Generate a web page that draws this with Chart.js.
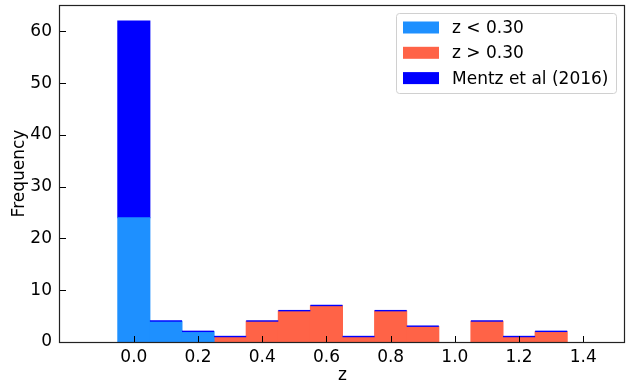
<!DOCTYPE html>
<html>
<head>
<meta charset="utf-8">
<script src="https://cdn.jsdelivr.net/npm/chart.js@4/dist/chart.umd.min.js"></script>
<style>
  html, body { margin: 0; padding: 0; background: #fff; }
  #wrap { width: 632px; height: 384px; }
</style>
</head>
<body>
<div id="wrap"><canvas id="histChart" width="632" height="384"></canvas></div>
<script>
// bin centres (bin width 0.1)
const binCenters = [0.0, 0.1, 0.2, 0.3, 0.4, 0.5, 0.6, 0.7, 0.8, 0.9, 1.0, 1.1, 1.2, 1.3];
// counts per bin
const lowZ   = [24, 4, 2, null, null, null, null, null, null, null, null, null, null, null];
const highZ  = [null, null, null, 1, 4, 6, 7, 1, 6, 3, null, 4, 1, 2];
const mentz  = [38, null, null, null, null, null, null, null, null, null, null, null, null, null];
const seriesLabels = ["z < 0.30", "z > 0.30", "Mentz et al (2016)"];
const xTicks = [0.0, 0.2, 0.4, 0.6, 0.8, 1.0, 1.2, 1.4];
const yTicks = [0, 10, 20, 30, 40, 50, 60];

const FONT = "DejaVu Sans";
const FSIZE = 17;
const colLow = "#1E90FF";
const colHigh = "#FF6347";
const colMentz = "#0000FF";

function toPoints(vals) {
    return binCenters.map((x, i) => ({ x: x, y: vals[i] }));
}

// empty Mentz bins stacked on top show up as a thin blue edge
const stackEdge = {
    id: "stackEdge",
    afterDatasetsDraw(chart) {
        const ctx = chart.ctx;
        ctx.save();
        ctx.fillStyle = colMentz;
        [0, 1].forEach(di => {
            chart.getDatasetMeta(di).data.forEach((bar, j) => {
                const v = chart.data.datasets[di].data[j].y;
                if (v === null || mentz[j]) return;
                ctx.fillRect(bar.x - bar.width / 2, bar.y - 1, bar.width, 1.4);
            });
        });
        ctx.restore();
    }
};

// ticks pointing into the plot, plus the box around it
const axesFrame = {
    id: "axesFrame",
    afterDatasetsDraw(chart) {
        const { ctx, chartArea: a, scales } = chart;
        ctx.save();
        ctx.strokeStyle = "#000";
        ctx.lineWidth = 1;
        ctx.beginPath();
        scales.x.ticks.forEach(t => {
            const px = Math.round(scales.x.getPixelForValue(t.value)) + 0.5;
            ctx.moveTo(px, a.bottom);
            ctx.lineTo(px, a.bottom - 6);
        });
        scales.y.ticks.forEach(t => {
            const py = Math.round(scales.y.getPixelForValue(t.value)) + 0.5;
            ctx.moveTo(a.left, py);
            ctx.lineTo(a.left + 6, py);
        });
        ctx.stroke();

        ctx.strokeStyle = "#222";
        ctx.lineWidth = 1.2;
        ctx.strokeRect(Math.round(a.left) - 0.5, Math.round(a.top) + 0.5,
                       Math.round(a.right - a.left), Math.round(a.bottom - a.top));
        ctx.restore();
    }
};

// legend box in the upper right corner
const cornerLegend = {
    id: "cornerLegend",
    afterDraw(chart) {
        const ctx = chart.ctx;
        const x0 = 396.5, y0 = 13.5, w = 220, h = 80;
        ctx.save();
        ctx.fillStyle = "rgba(255,255,255,0.8)";
        ctx.strokeStyle = "#d0d0d0";
        ctx.lineWidth = 1;
        ctx.beginPath();
        ctx.roundRect(x0, y0, w, h, 3);
        ctx.fill();
        ctx.stroke();
        ctx.font = FSIZE + "px '" + FONT + "'";
        ctx.textBaseline = "middle";
        chart.data.datasets.forEach((ds, i) => {
            const cy = 27.5 + i * 25.3;
            ctx.fillStyle = ds.backgroundColor;
            ctx.fillRect(403, cy - 6, 36, 12);
            ctx.fillStyle = "#000";
            ctx.fillText(ds.label, 452, cy + 1);
        });
        ctx.restore();
    }
};

const data = {
    datasets: [
        { label: seriesLabels[0], data: toPoints(lowZ),  backgroundColor: colLow },
        { label: seriesLabels[1], data: toPoints(highZ), backgroundColor: colHigh },
        { label: seriesLabels[2], data: toPoints(mentz), backgroundColor: colMentz }
    ]
};

const config = {
    type: "bar",
    data: data,
    options: {
        responsive: false,
        animation: false,
        devicePixelRatio: 1,
        barPercentage: 1,
        categoryPercentage: 1,
        datasets: { bar: { borderWidth: 0, inflateAmount: 0.5 } },
        layout: { padding: { top: 5, right: 7, left: 0, bottom: 0 } },
        scales: {
            x: {
                type: "linear",
                stacked: true,
                min: -0.12,
                max: 1.42,
                afterFit(scale) {
                    scale.height = 42;
                    scale.paddingLeft = 0;
                    scale.paddingRight = 0;
                },
                afterBuildTicks(scale) { scale.ticks = xTicks.map(v => ({ value: v })); },
                grid: { display: false, drawTicks: false },
                border: { display: false },
                ticks: {
                    includeBounds: false,
                    stepSize: 0.2,
                    autoSkip: false,
                    maxRotation: 0,
                    padding: 5,
                    color: "#000",
                    font: { family: FONT, size: FSIZE },
                    callback: v => v.toFixed(1)
                },
                title: {
                    display: true,
                    text: "z",
                    color: "#000",
                    font: { family: FONT, size: FSIZE, lineHeight: 1 },
                    padding: { top: 0, bottom: 0 }
                }
            },
            y: {
                stacked: true,
                min: 0,
                max: 65.1,
                afterFit(scale) {
                    scale.width = 60;
                    scale.paddingTop = 0;
                    scale.paddingBottom = 0;
                },
                afterBuildTicks(scale) { scale.ticks = yTicks.map(v => ({ value: v })); },
                grid: { display: false, drawTicks: false },
                border: { display: false },
                ticks: {
                    includeBounds: false,
                    stepSize: 10,
                    padding: 8,
                    color: "#000",
                    font: { family: FONT, size: FSIZE }
                },
                title: {
                    display: true,
                    text: "Frequency",
                    color: "#000",
                    font: { family: FONT, size: FSIZE, lineHeight: 1 },
                    padding: { top: 11, bottom: 0 }
                }
            }
        },
        plugins: {
            legend: { display: false },
            tooltip: { enabled: false }
        }
    },
    plugins: [stackEdge, axesFrame, cornerLegend]
};

const histChart = new Chart(document.getElementById("histChart"), config);
</script>
</body>
</html>
